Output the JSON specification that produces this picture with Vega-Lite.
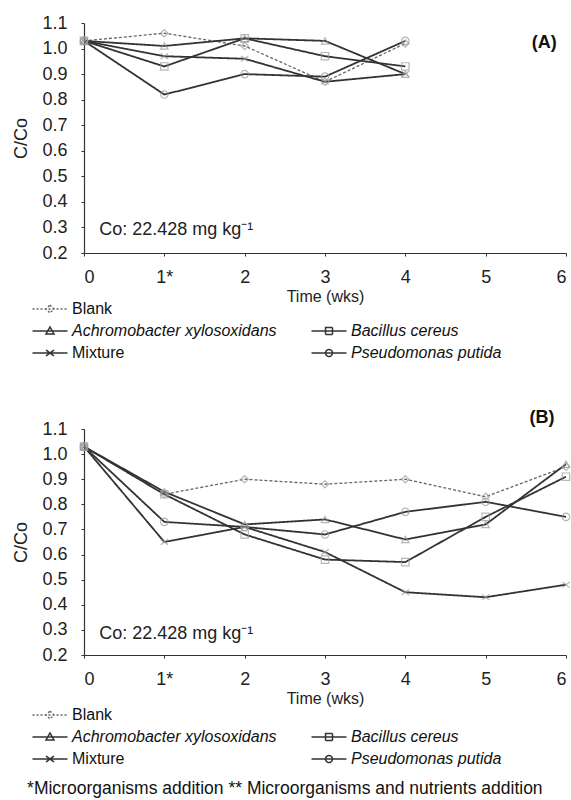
{
  "$schema": "https://vega.github.io/schema/vega-lite/v6.json",
  "background": "white",
  "padding": {"left": 12, "top": 14, "right": 2, "bottom": 5},
  "config": {
    "font": "Liberation Sans",
    "view": {"stroke": null},
    "axis": {"grid": false, "domainColor": "#333", "tickColor": "#333", "labelColor": "#222", "titleColor": "#222", "labelFontSize": 18, "titleFontWeight": "normal", "tickSize": 3, "domainWidth": 1.2, "labelOverlap": false}
  },
  "bounds": "flush",
  "spacing": 176,
  "resolve": {"scale": {"color": "independent", "shape": "independent"}, "legend": {"color": "independent"}},
  "datasets": {
    "A": [
      {"series": "Blank", "week": 0, "c": 1.03}, {"series": "Blank", "week": 1, "c": 1.06}, {"series": "Blank", "week": 2, "c": 1.01}, {"series": "Blank", "week": 3, "c": 0.87}, {"series": "Blank", "week": 4, "c": 1.02},
      {"series": "Achromobacter xylosoxidans", "week": 0, "c": 1.03}, {"series": "Achromobacter xylosoxidans", "week": 1, "c": 1.01}, {"series": "Achromobacter xylosoxidans", "week": 2, "c": 1.04}, {"series": "Achromobacter xylosoxidans", "week": 3, "c": 1.03}, {"series": "Achromobacter xylosoxidans", "week": 4, "c": 0.90},
      {"series": "Bacillus cereus", "week": 0, "c": 1.03}, {"series": "Bacillus cereus", "week": 1, "c": 0.93}, {"series": "Bacillus cereus", "week": 2, "c": 1.04}, {"series": "Bacillus cereus", "week": 3, "c": 0.97}, {"series": "Bacillus cereus", "week": 4, "c": 0.93},
      {"series": "Mixture", "week": 0, "c": 1.03}, {"series": "Mixture", "week": 1, "c": 0.97}, {"series": "Mixture", "week": 2, "c": 0.96}, {"series": "Mixture", "week": 3, "c": 0.87}, {"series": "Mixture", "week": 4, "c": 0.90},
      {"series": "Pseudomonas putida", "week": 0, "c": 1.03}, {"series": "Pseudomonas putida", "week": 1, "c": 0.82}, {"series": "Pseudomonas putida", "week": 2, "c": 0.90}, {"series": "Pseudomonas putida", "week": 3, "c": 0.89}, {"series": "Pseudomonas putida", "week": 4, "c": 1.03}
    ],
    "B": [
      {"series": "Blank", "week": 0, "c": 1.03}, {"series": "Blank", "week": 1, "c": 0.84}, {"series": "Blank", "week": 2, "c": 0.90}, {"series": "Blank", "week": 3, "c": 0.88}, {"series": "Blank", "week": 4, "c": 0.90}, {"series": "Blank", "week": 5, "c": 0.83}, {"series": "Blank", "week": 6, "c": 0.95},
      {"series": "Achromobacter xylosoxidans", "week": 0, "c": 1.03}, {"series": "Achromobacter xylosoxidans", "week": 1, "c": 0.85}, {"series": "Achromobacter xylosoxidans", "week": 2, "c": 0.72}, {"series": "Achromobacter xylosoxidans", "week": 3, "c": 0.74}, {"series": "Achromobacter xylosoxidans", "week": 4, "c": 0.66}, {"series": "Achromobacter xylosoxidans", "week": 5, "c": 0.72}, {"series": "Achromobacter xylosoxidans", "week": 6, "c": 0.96},
      {"series": "Bacillus cereus", "week": 0, "c": 1.03}, {"series": "Bacillus cereus", "week": 1, "c": 0.84}, {"series": "Bacillus cereus", "week": 2, "c": 0.68}, {"series": "Bacillus cereus", "week": 3, "c": 0.58}, {"series": "Bacillus cereus", "week": 4, "c": 0.57}, {"series": "Bacillus cereus", "week": 5, "c": 0.75}, {"series": "Bacillus cereus", "week": 6, "c": 0.91},
      {"series": "Mixture", "week": 0, "c": 1.03}, {"series": "Mixture", "week": 1, "c": 0.65}, {"series": "Mixture", "week": 2, "c": 0.71}, {"series": "Mixture", "week": 3, "c": 0.61}, {"series": "Mixture", "week": 4, "c": 0.45}, {"series": "Mixture", "week": 5, "c": 0.43}, {"series": "Mixture", "week": 6, "c": 0.48},
      {"series": "Pseudomonas putida", "week": 0, "c": 1.03}, {"series": "Pseudomonas putida", "week": 1, "c": 0.73}, {"series": "Pseudomonas putida", "week": 2, "c": 0.71}, {"series": "Pseudomonas putida", "week": 3, "c": 0.68}, {"series": "Pseudomonas putida", "week": 4, "c": 0.77}, {"series": "Pseudomonas putida", "week": 5, "c": 0.81}, {"series": "Pseudomonas putida", "week": 6, "c": 0.75}
    ]
  },
  "vconcat": [
    {
      "width": 482,
      "height": 230,
      "encoding": {
        "x": {"field": "week", "type": "quantitative", "scale": {"domain": [0, 6]}, "axis": {"values": [0, 1, 2, 3, 4, 5, 6], "format": "d", "title": "Time (wks)", "titleFontSize": 16, "titlePadding": 2, "labelPadding": 12, "labelOverlap": false, "labelExpr": "datum.value == 1 ? '1*' : datum.label"}},
        "y": {"field": "c", "type": "quantitative", "scale": {"domain": [0.2, 1.1]}, "axis": {"values": [0.2, 0.3, 0.4, 0.5, 0.6, 0.7, 0.8, 0.9, 1.0, 1.1], "format": ".1f", "title": "C/Co", "titleFontSize": 18, "titlePadding": 11, "labelPadding": 14, "labelOverlap": false}}
      },
      "layer": [
        {
          "data": {"name": "A"},
          "mark": {"type": "line"},
          "encoding": {
            "color": {
              "field": "series", "type": "nominal",
              "scale": {"domain": ["Blank", "Achromobacter xylosoxidans", "Mixture", " ", "Bacillus cereus", "Pseudomonas putida"], "range": ["#666666", "#333333", "#333333", "#ffffff", "#333333", "#333333"]},
              "legend": {
                "title": null, "orient": "none", "legendX": -42, "legendY": 278, "columns": 2, "columnPadding": 31, "rowPadding": 6,
                "labelFontSize": 16, "labelColor": "#111", "labelOffset": 14, "labelLimit": 400,
                "symbolSize": 100, "symbolStrokeWidth": 1.5,
                "symbolType": {"expr": "datum.value == 'Blank' ? 'M-3.5,0H3.5M0,-0.8L0.8,0L0,0.8L-0.8,0Z' : datum.value == 'Achromobacter xylosoxidans' ? 'M-3.5,0H3.5M0,-0.8L0.8,0.6L-0.8,0.6Z' : datum.value == 'Bacillus cereus' ? 'M-3.5,0H3.5M-0.7,-0.7H0.7V0.7H-0.7Z' : datum.value == 'Mixture' ? 'M-3.5,0H3.5M-0.8,-0.6L0.8,0.6M-0.8,0.6L0.8,-0.6' : datum.value == 'Pseudomonas putida' ? 'M-3.5,0H3.5M0.7,0A0.7,0.7 0 1,1 -0.7,0A0.7,0.7 0 1,1 0.7,0' : 'M0,0'"},
                "symbolDash": {"expr": "datum.value == 'Blank' ? [2, 2] : [1, 0]"},
                "labelFontStyle": {"expr": "datum.value == 'Blank' || datum.value == 'Mixture' ? 'normal' : 'italic'"}
              }
            },
            "strokeDash": {"condition": {"test": "datum.series == 'Blank'", "value": [3, 2]}, "value": [1, 0]},
            "strokeWidth": {"condition": {"test": "datum.series == 'Blank'", "value": 1.3}, "value": 1.8}
          }
        },
        {
          "data": {"name": "A"},
          "mark": {"type": "point", "filled": false, "color": "#999999", "strokeWidth": 1.2, "size": 55},
          "encoding": {
            "shape": {"field": "series", "type": "nominal", "scale": {"domain": ["Blank", "Achromobacter xylosoxidans", "Bacillus cereus", "Mixture", "Pseudomonas putida"], "range": ["diamond", "triangle-up", "square", "M-1,-0.75L1,0.75M-1,0.75L1,-0.75", "circle"]}, "legend": null}
          }
        },
        {
          "data": {"values": [{"week": 5.73, "c": 1.022, "label": "(A)"}]},
          "mark": {"type": "text", "fontSize": 18, "fontWeight": "bold", "align": "center", "baseline": "middle", "color": "#111"},
          "encoding": {"text": {"field": "label"}}
        },
        {
          "data": {"values": [{"week": 0.19, "c": 0.29, "label": "Co: 22.428 mg kg⁻¹"}]},
          "mark": {"type": "text", "fontSize": 18, "align": "left", "baseline": "middle", "color": "#222"},
          "encoding": {"text": {"field": "label"}}
        }
      ]
    },
    {
      "width": 482,
      "height": 226,
      "encoding": {
        "x": {"field": "week", "type": "quantitative", "scale": {"domain": [0, 6]}, "axis": {"values": [0, 1, 2, 3, 4, 5, 6], "format": "d", "title": "Time (wks)", "titleFontSize": 16, "titlePadding": 2, "labelPadding": 12, "labelOverlap": false, "labelExpr": "datum.value == 1 ? '1*' : datum.label"}},
        "y": {"field": "c", "type": "quantitative", "scale": {"domain": [0.2, 1.1]}, "axis": {"values": [0.2, 0.3, 0.4, 0.5, 0.6, 0.7, 0.8, 0.9, 1.0, 1.1], "format": ".1f", "title": "C/Co", "titleFontSize": 18, "titlePadding": 11, "labelPadding": 14, "labelOverlap": false}}
      },
      "layer": [
        {
          "data": {"name": "B"},
          "mark": {"type": "line"},
          "encoding": {
            "color": {
              "field": "series", "type": "nominal",
              "scale": {"domain": ["Blank", "Achromobacter xylosoxidans", "Mixture", " ", "Bacillus cereus", "Pseudomonas putida"], "range": ["#666666", "#333333", "#333333", "#ffffff", "#333333", "#333333"]},
              "legend": {
                "title": null, "orient": "none", "legendX": -42, "legendY": 278, "columns": 2, "columnPadding": 31, "rowPadding": 6,
                "labelFontSize": 16, "labelColor": "#111", "labelOffset": 14, "labelLimit": 400,
                "symbolSize": 100, "symbolStrokeWidth": 1.5,
                "symbolType": {"expr": "datum.value == 'Blank' ? 'M-3.5,0H3.5M0,-0.8L0.8,0L0,0.8L-0.8,0Z' : datum.value == 'Achromobacter xylosoxidans' ? 'M-3.5,0H3.5M0,-0.8L0.8,0.6L-0.8,0.6Z' : datum.value == 'Bacillus cereus' ? 'M-3.5,0H3.5M-0.7,-0.7H0.7V0.7H-0.7Z' : datum.value == 'Mixture' ? 'M-3.5,0H3.5M-0.8,-0.6L0.8,0.6M-0.8,0.6L0.8,-0.6' : datum.value == 'Pseudomonas putida' ? 'M-3.5,0H3.5M0.7,0A0.7,0.7 0 1,1 -0.7,0A0.7,0.7 0 1,1 0.7,0' : 'M0,0'"},
                "symbolDash": {"expr": "datum.value == 'Blank' ? [2, 2] : [1, 0]"},
                "labelFontStyle": {"expr": "datum.value == 'Blank' || datum.value == 'Mixture' ? 'normal' : 'italic'"}
              }
            },
            "strokeDash": {"condition": {"test": "datum.series == 'Blank'", "value": [3, 2]}, "value": [1, 0]},
            "strokeWidth": {"condition": {"test": "datum.series == 'Blank'", "value": 1.3}, "value": 1.8}
          }
        },
        {
          "data": {"name": "B"},
          "mark": {"type": "point", "filled": false, "color": "#999999", "strokeWidth": 1.2, "size": 55},
          "encoding": {
            "shape": {"field": "series", "type": "nominal", "scale": {"domain": ["Blank", "Achromobacter xylosoxidans", "Bacillus cereus", "Mixture", "Pseudomonas putida"], "range": ["diamond", "triangle-up", "square", "M-1,-0.75L1,0.75M-1,0.75L1,-0.75", "circle"]}, "legend": null}
          }
        },
        {
          "data": {"values": [{"week": 5.70, "c": 1.145, "label": "(B)"}]},
          "mark": {"type": "text", "fontSize": 18, "fontWeight": "bold", "align": "center", "baseline": "middle", "color": "#111"},
          "encoding": {"text": {"field": "label"}}
        },
        {
          "data": {"values": [{"week": 0.19, "c": 0.282, "label": "Co: 22.428 mg kg⁻¹"}]},
          "mark": {"type": "text", "fontSize": 18, "align": "left", "baseline": "middle", "color": "#222"},
          "encoding": {"text": {"field": "label"}}
        },
        {
          "data": {"values": [{"week": 2.50, "c": -0.335, "label": "*Microorganisms addition ** Microorganisms and nutrients addition"}]},
          "mark": {"type": "text", "fontSize": 17.5, "align": "center", "baseline": "middle", "color": "#111"},
          "encoding": {"text": {"field": "label"}}
        }
      ]
    }
  ]
}
